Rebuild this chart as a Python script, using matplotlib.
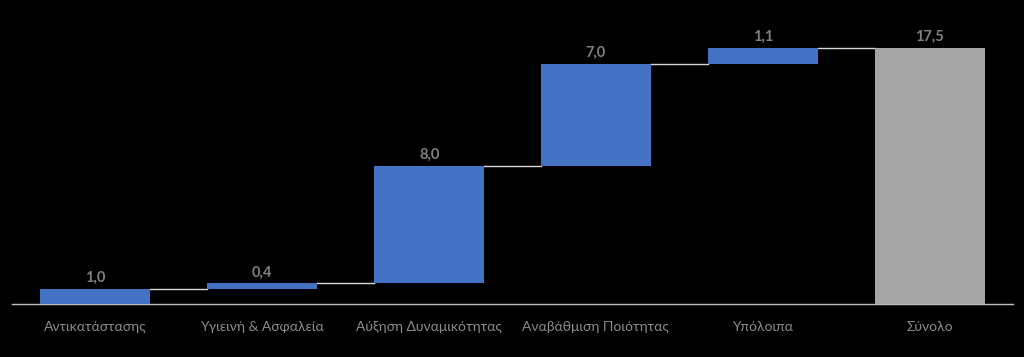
import numpy as np
import matplotlib
matplotlib.use('Agg')
import matplotlib.pyplot as plt

categories = ['Αντικατάστασης', 'Υγιεινή & Ασφαλεία', 'Αύξηση Δυναμικότητας',
              'Αναβάθμιση Ποιότητας', 'Υπόλοιπα', 'Σύνολο']
steps = [1.0, 0.4, 8.0, 7.0, 1.1]
total = 17.5

plt.rcParams['font.family'] = ['Lato', 'DejaVu Sans']

fig = plt.figure(figsize=(10.24, 3.57), dpi=100, facecolor='black')
ax = fig.add_axes([12 / 1024, 53 / 357, 1001 / 1024, 293 / 357])
ax.set_facecolor('black')

x = np.arange(len(categories))
width = 0.66
bottoms = np.concatenate([[0], np.cumsum(steps)[:-1]])
tops = bottoms + np.array(steps)

ax.bar(x[:-1], steps, width, bottom=bottoms, color='#4472C4', zorder=3)
ax.bar(x[-1], total, width, color='#A5A5A5', zorder=3)

# connectors
levels = list(tops)
for i in range(len(categories) - 1):
    ax.plot([x[i] + width / 2, x[i + 1] - width / 2], [levels[i], levels[i]],
            color='#d9d9d9', lw=1.0, zorder=2)

values = steps + [total]
label_tops = list(tops) + [total]
for xi, v, t in zip(x, values, label_tops):
    ax.annotate(('%.1f' % v).replace('.', ','), (xi, t), xytext=(0, 3),
                textcoords='offset points', ha='center', va='bottom',
                color='#808080', fontsize=10.5, fontweight='bold')

ax.set_xlim(-0.5, len(categories) - 0.5)
ax.set_ylim(0, 20)
ax.set_xticks(x)
ax.set_xticklabels(categories, color='#8c8c8c', fontsize=10)
ax.tick_params(axis='x', length=0, pad=12)
ax.set_yticks([])
for s in ['top', 'right', 'left']:
    ax.spines[s].set_visible(False)
ax.spines['bottom'].set_color('#bfbfbf')
ax.spines['bottom'].set_linewidth(1.0)

fig.savefig('out.png', dpi=100, facecolor='black')
